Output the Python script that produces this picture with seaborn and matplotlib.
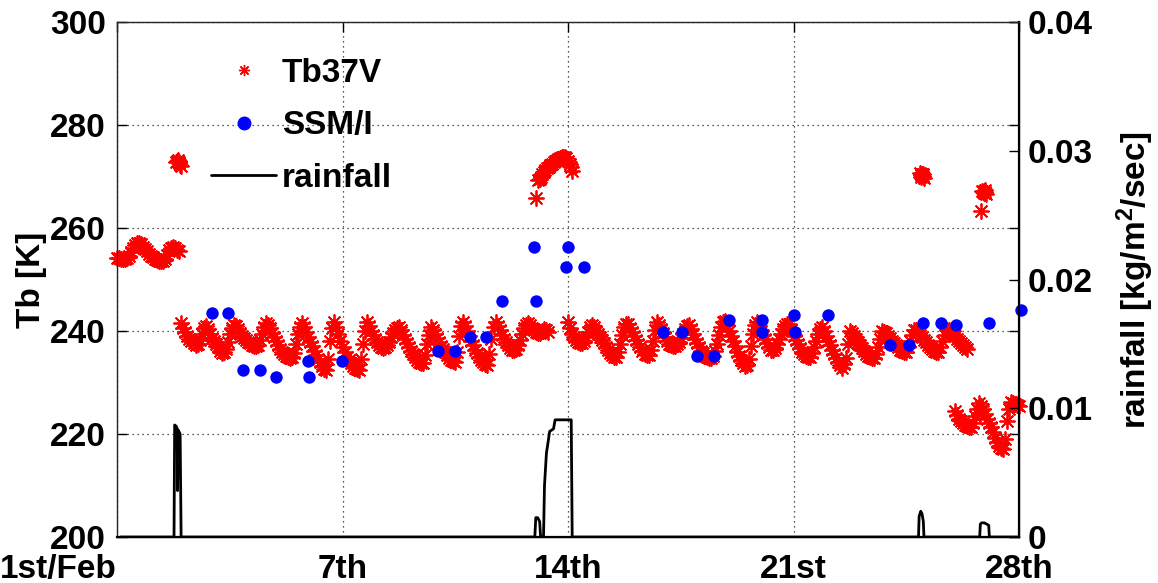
import numpy as np
import pandas as pd
import matplotlib
matplotlib.use("Agg")
import matplotlib.pyplot as plt
from matplotlib.lines import Line2D
import seaborn as sns

# ---------------- data ----------------
# Tb37V, regular 90-minute samples (step 0.0625 day); one row per day
STEP = 0.0625
tb_seg1_start = 0.0
tb_seg1 = [254.2, 254.1, 254.0, 253.9, 253.9, 254.1, 254.5, 255.3, 256.2, 256.7, 257.0, 257.0, 256.8, 256.4, 256.0, 255.5,
           255.0, 254.6, 254.3, 254.0, 253.8, 253.6, 253.5, 253.6, 254.0, 254.8, 255.8, 256.2, 256.3, 256.1, 255.8, 255.6]

tb_seg2_start = 2.0
tb_seg2 = [241.5, 240.6, 239.8, 239.1, 238.5, 238.0, 237.6, 237.3, 237.4, 238.3, 239.5, 240.6, 241.0, 240.3, 239.5, 238.7,
           238.0, 237.4, 236.8, 236.2, 235.8, 235.9, 236.5, 237.9, 239.5, 240.6, 241.2, 240.9, 240.3, 239.6, 239.0, 238.6,
           238.2, 237.9, 237.6, 237.3, 237.0, 237.0, 237.3, 238.2, 239.5, 240.7, 241.5, 241.1, 240.5, 239.6, 238.8, 238.0,
           237.2, 236.6, 236.0, 235.6, 235.2, 234.9, 234.7, 235.0, 235.8, 237.5, 239.5, 240.8, 241.5, 240.7, 239.8, 238.8,
           237.8, 237.0, 236.2, 235.4, 234.6, 233.9, 233.2, 232.7, 232.4, 234.5, 238.0, 240.5, 241.8, 240.7, 239.5, 238.1,
           236.8, 235.9, 235.0, 234.4, 233.8, 233.3, 232.9, 232.6, 232.5, 234.5, 237.5, 240.0, 241.8, 240.9, 240.0, 239.2,
           238.5, 237.9, 237.3, 236.9, 236.7, 236.8, 237.2, 237.9, 238.8, 239.6, 240.2, 240.6, 240.8, 240.1, 239.3, 238.4,
           237.6, 236.9, 236.2, 235.6, 235.0, 234.4, 234.0, 233.8, 233.8, 235.3, 237.5, 239.3, 240.8, 240.2, 239.4, 238.6,
           237.8, 237.1, 236.5, 235.9, 235.3, 234.8, 234.4, 234.1, 234.0, 236.0, 239.0, 241.0, 241.8, 240.9, 240.0, 239.0,
           238.0, 237.2, 236.4, 235.7, 235.0, 234.4, 233.9, 233.6, 233.4, 235.5, 238.5, 240.7, 241.8, 241.0, 240.2, 239.3,
           238.5, 237.8, 237.2, 236.7, 236.4, 236.3, 236.5, 237.3, 238.3, 239.5, 240.5, 241.1, 241.5, 241.1, 240.6, 240.2,
           239.8, 239.6, 239.6, 240.0, 240.4, 240.2, 239.8]

tb_seg3_start = 14.0
tb_seg3 = [241.8, 240.5, 239.5, 238.8, 238.3, 237.9, 237.6, 237.6, 238.0, 238.8, 239.8, 240.7, 241.2, 240.7, 240.0, 239.4,
           238.8, 238.2, 237.6, 236.9, 236.3, 235.7, 235.3, 235.0, 235.0, 236.0, 237.5, 239.3, 240.8, 241.4, 241.3, 240.6,
           239.8, 239.0, 238.3, 237.5, 236.8, 236.2, 235.6, 235.3, 235.3, 236.3, 238.0, 240.2, 241.8, 241.2, 240.4, 239.6,
           238.8, 238.1, 237.5, 237.2, 237.0, 237.1, 237.4, 237.9, 238.6, 239.5, 240.4, 241.0, 241.2, 240.4, 239.5, 238.5,
           237.6, 236.9, 236.2, 235.7, 235.2, 234.9, 234.7, 234.8, 235.2, 236.2, 237.5, 239.3, 240.8, 241.7, 242.0, 241.1,
           240.0, 239.0, 238.0, 237.0, 236.0, 235.2, 234.4, 233.7, 233.2, 233.4, 234.5, 237.0, 239.5, 241.2, 241.8, 241.0,
           240.0, 239.2, 238.5, 237.6, 236.8, 236.4, 236.3, 236.7, 237.5, 238.5, 239.5, 240.4, 241.0, 241.3, 241.3, 240.2,
           239.0, 238.2, 237.5, 236.7, 236.0, 235.5, 235.2, 235.0, 235.0, 235.7, 236.8, 238.1, 239.5, 240.4, 240.8, 240.0,
           239.0, 238.1, 237.2, 236.3, 235.5, 234.7, 234.0, 233.4, 232.9, 233.5, 234.8, 237.5, 240.0, 239.6, 239.0, 238.4,
           237.8, 237.2, 236.7, 236.1, 235.6, 235.2, 234.9, 234.8, 234.8, 235.5, 236.8, 238.5, 240.0, 239.9, 239.6, 239.1,
           238.6, 238.1, 237.7, 237.2, 236.8, 236.4, 236.1, 236.0, 236.0, 236.8, 238.0, 239.2, 240.2, 240.1, 239.8, 239.3,
           238.8, 238.3, 237.8, 237.3, 236.9, 236.5, 236.2, 236.0, 236.0, 236.8, 238.0, 239.2, 240.2, 240.1, 239.8, 239.4,
           239.0, 238.5, 238.0, 237.6, 237.2, 236.8, 236.5]

tb_seg4_start = 26.0
tb_seg4 = [224.5, 223.7, 223.0, 222.6, 222.2, 221.8, 221.5, 221.3, 221.4, 222.2, 223.5, 224.9, 226.0, 225.5, 224.8, 223.9,
           223.0, 222.2, 221.3, 220.3, 219.3, 218.4, 217.6, 217.2, 217.0, 219.0, 222.5, 224.8, 226.2, 226.0, 225.8, 225.6,
           225.5]

# short warm episodes during rain
tb_warm_days = [1.83, 1.86, 1.88, 1.91, 1.93, 1.96, 1.98,
                13.01, 13.08, 13.12, 13.15, 13.20, 13.25, 13.30, 13.35, 13.40, 13.45,
                13.50, 13.55, 13.60, 13.65, 13.70, 13.75, 13.80, 13.85, 13.90,
                13.95, 14.00, 14.05, 14.09, 14.12,
                24.93, 24.95, 24.97, 24.99, 25.01, 25.03, 25.05,
                26.82, 26.86, 26.88, 26.90, 26.92, 26.94, 26.96, 26.98]
tb_warm_vals = [272.8, 273.0, 273.2, 272.8, 272.6, 272.3, 272.0,
                265.8, 269.3, 269.6, 270.0, 270.4, 270.8, 271.2, 271.6, 271.9, 272.2,
                272.5, 272.8, 273.0, 273.3, 273.4, 273.5, 273.7, 273.8, 273.8,
                273.6, 273.1, 272.5, 271.8, 271.0,
                270.6, 270.2, 270.0, 270.4, 270.5, 270.1, 269.8,
                263.3, 267.2, 266.9, 266.8, 267.1, 267.3, 266.9, 266.6]

# SSM/I overpasses
ssmi_days = [2.94, 3.46, 3.92, 4.44, 4.94, 5.94, 5.97, 6.99,
             9.96, 10.50, 10.96, 11.45, 11.96, 12.96, 13.00, 13.94, 13.99, 14.50,
             16.96, 17.53, 18.00, 18.54, 19.00, 20.02, 20.02, 21.02, 21.06, 22.06,
             24.00, 24.58, 25.02, 25.58, 26.05, 27.06, 28.05]
ssmi_tb = [243.4, 243.4, 232.4, 232.4, 231.1, 234.2, 231.1, 234.2,
           236.1, 236.1, 238.9, 238.9, 245.8, 256.4, 245.8, 252.4, 256.4, 252.4,
           239.8, 239.8, 235.2, 235.2, 242.1, 242.1, 239.9, 243.2, 239.9, 243.2,
           237.3, 237.3, 241.5, 241.5, 241.1, 241.5, 244.1]

# rainfall rate [kg/m^2/s]
rain_days = [0.10, 1.77, 1.79, 1.84, 1.87, 1.88, 1.90, 1.96, 1.99,
             12.97, 13.00, 13.06, 13.12, 13.15, 13.24, 13.27, 13.33, 13.43,
             13.55, 13.60, 13.66, 14.10, 14.13,
             24.88, 24.90, 24.95, 24.99, 25.03, 25.05,
             26.78, 26.80, 26.84, 26.92, 27.00, 27.06, 27.08, 28.00]
rain_vals = [0.0, 0.0, 0.0087, 0.0086, 0.0084, 0.0036, 0.0083, 0.0080, 0.0,
             0.0, 0.0015, 0.0015, 0.0012, 0.0, 0.0, 0.0040, 0.0065, 0.0082,
             0.0084, 0.0091, 0.0091, 0.0091, 0.0,
             0.0, 0.0016, 0.0020, 0.0018, 0.0012, 0.0,
             0.0, 0.0010, 0.0011, 0.0011, 0.0010, 0.0009, 0.0, 0.0]

x_ticks = [0, 7, 14, 21, 28]
x_ticklabels = ["1st/Feb", "7th", "14th", "21st", "28th"]
tb_ticks = [200, 220, 240, 260, 280, 300]
rain_ticks = [0, 0.01, 0.02, 0.03, 0.04]
rain_ticklabels = ["0", "0.01", "0.02", "0.03", "0.04"]

# ---------------- assemble ----------------
def regular(start, vals):
    return start + STEP * np.arange(len(vals))

tb_df = pd.DataFrame({
    "day": np.concatenate([regular(tb_seg1_start, tb_seg1),
                           regular(tb_seg2_start, tb_seg2),
                           regular(tb_seg3_start, tb_seg3),
                           regular(tb_seg4_start, tb_seg4),
                           np.array(tb_warm_days)]),
    "tb": np.concatenate([tb_seg1, tb_seg2, tb_seg3, tb_seg4, tb_warm_vals]),
})
ssmi_df = pd.DataFrame({"day": ssmi_days, "tb": ssmi_tb})
rain_df = pd.DataFrame({"day": rain_days, "rain": rain_vals})

# ---------------- style ----------------
sns.set_style("white")
plt.rcParams["font.family"] = ["Liberation Sans", "DejaVu Sans"]
plt.rcParams["font.weight"] = "bold"
plt.rcParams["axes.labelweight"] = "bold"
plt.rcParams["text.color"] = "black"
plt.rcParams["axes.labelcolor"] = "black"
plt.rcParams["xtick.color"] = "black"
plt.rcParams["ytick.color"] = "black"
plt.rcParams["mathtext.fontset"] = "custom"
plt.rcParams["mathtext.rm"] = "Liberation Sans:bold"
plt.rcParams["mathtext.bf"] = "Liberation Sans:bold"
plt.rcParams["mathtext.it"] = "Liberation Sans:bold"

FS = 24
ASTER = (8, 2, 0)

fig = plt.figure(figsize=(11.58, 5.83), dpi=100)
ax = fig.add_axes([117 / 1158, 1 - 537 / 583, (1019 - 117) / 1158, (537 - 22) / 583])
ax2 = ax.twinx()

sns.scatterplot(data=tb_df, x="day", y="tb", ax=ax, marker=ASTER, color="#ff0000",
                s=115, linewidth=1.3, legend=False, clip_on=False, zorder=3)
sns.scatterplot(data=ssmi_df, x="day", y="tb", ax=ax, marker="o", color="#0000ff",
                s=80, linewidth=0, legend=False, clip_on=False, zorder=4)
sns.lineplot(data=rain_df, x="day", y="rain", ax=ax2, color="black", lw=2.0,
             sort=False, estimator=None, legend=False, zorder=3)

ax.set_xlim(0, 28)
ax.set_ylim(200, 300)
ax2.set_ylim(0, 0.04)
ax.set_xticks(x_ticks)
ax.set_xticklabels(x_ticklabels, fontsize=FS, fontweight="bold", color="black")
ax.set_yticks(tb_ticks)
ax.set_yticklabels([str(v) for v in tb_ticks], fontsize=FS, fontweight="bold",
                   color="black")
ax2.set_yticks(rain_ticks)
ax2.set_yticklabels(rain_ticklabels, fontsize=FS, fontweight="bold", color="black")
ax.get_xticklabels()[0].set_horizontalalignment("right")

ax.grid(True, linestyle=(0, (1, 3)), color="#222222", linewidth=0.9)
ax.set_axisbelow(True)
ax.tick_params(direction="in", length=7, width=1, top=True, right=True,
               colors="black", pad=8)
ax.tick_params(axis="x", pad=12)
ax2.tick_params(direction="in", length=7, width=1, colors="black", pad=6)

for sp in ax.spines.values():
    sp.set_color("#444444")
    sp.set_linewidth(1.0)
ax2.spines["right"].set_color("black")
ax2.spines["right"].set_linewidth(1.6)
ax2.spines["bottom"].set_color("black")
ax2.spines["bottom"].set_linewidth(1.6)

ax.set_xlabel("")
ax.set_ylabel("Tb [K]", fontsize=FS, fontweight="bold", labelpad=2, color="black")
ax2.set_ylabel(r"rainfall [kg/m$^{2}$/sec]", fontsize=FS, fontweight="bold",
               labelpad=16, color="black")

handles = [Line2D([], [], marker=ASTER, color="#ff0000", ls="", ms=8, mew=1.0),
           Line2D([], [], marker="o", color="#0000ff", ls="", ms=9),
           Line2D([], [], color="black", lw=2.0)]
leg = ax2.legend(handles, ["Tb37V", "SSM/I", "rainfall"], frameon=False,
                 loc="upper left", bbox_to_anchor=(211 / 1158, 1 - 58 / 583),
                 bbox_transform=fig.transFigure, borderpad=0, borderaxespad=0,
                 handlelength=1.95, handletextpad=0.18, labelspacing=0.64,
                 prop={"size": FS, "weight": "bold"})
for t in leg.get_texts():
    t.set_color("black")

fig.savefig("out.png", dpi=100)
